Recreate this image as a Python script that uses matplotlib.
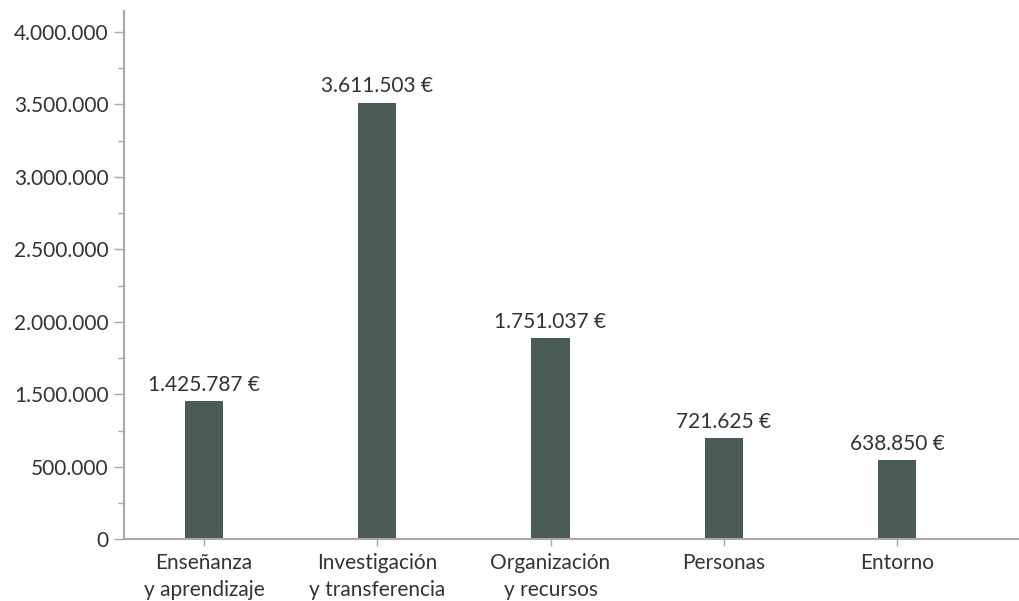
import matplotlib
matplotlib.use("Agg")
import matplotlib.pyplot as plt
from matplotlib.ticker import FixedLocator, MultipleLocator

categories = ["Enseñanza\ny aprendizaje", "Investigación\ny transferencia",
              "Organización\ny recursos", "Personas", "Entorno"]
# bar heights as drawn on the (linear) axis
bar_heights = [954000, 3011000, 1388000, 699000, 547000]
value_labels = ["1.425.787 €", "3.611.503 €", "1.751.037 €", "721.625 €", "638.850 €"]
ytick_values = [0, 500000, 1000000, 1500000, 2000000, 2500000, 3000000, 3500000]
ytick_labels = ["0", "500.000", "1.500.000", "2.000.000", "2.500.000",
                "3.000.000", "3.500.000", "4.000.000"]

plt.rcParams['font.family'] = ['Lato', 'DejaVu Sans']
text_color = "#333333"
axis_color = "#a8a8a8"
bar_color = "#4a5b53"

fig = plt.figure(figsize=(10.2, 6.01), dpi=100)
H = 601.0
ax = fig.add_axes([124/1020, (H-539.3)/H, (1020-124)/1020, (539.3-11)/H])

x = list(range(len(categories)))
ax.bar(x, bar_heights, width=0.22, color=bar_color, zorder=2)
for xi, h, lab in zip(x, bar_heights, value_labels):
    ax.annotate(lab, (xi, h), xytext=(0, 4.5), textcoords="offset points",
                ha="center", va="bottom", fontsize=15, color=text_color)

ax.set_xlim(-0.462, 4.71)
ax.set_ylim(0, 3643000)
ax.set_xticks(x)
ax.set_xticklabels(categories, fontsize=15, color=text_color, linespacing=1.45)
ax.yaxis.set_major_locator(FixedLocator(ytick_values))
ax.set_yticklabels(ytick_labels, fontsize=15, color=text_color)
ax.yaxis.set_minor_locator(MultipleLocator(250000))

for s in ["top", "right"]:
    ax.spines[s].set_visible(False)
for s in ["left", "bottom"]:
    ax.spines[s].set_color(axis_color)
    ax.spines[s].set_linewidth(1.5)

ax.tick_params(axis="y", which="major", length=7, width=1, color=axis_color, pad=4)
ax.tick_params(axis="y", which="minor", length=4, width=1, color=axis_color)
ax.tick_params(axis="x", which="major", length=5, width=1, color=axis_color, pad=5)

fig.savefig("out.png", dpi=100)
